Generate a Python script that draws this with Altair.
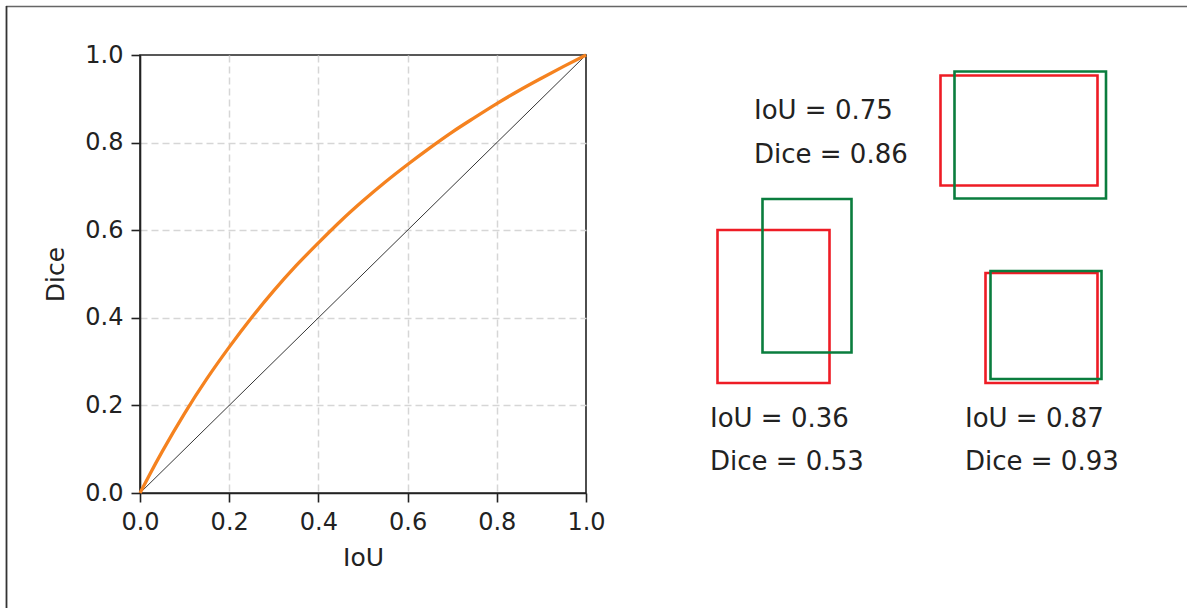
import altair as alt
import pandas as pd

# ---- data ----
iou_vals = [0.0, 0.02, 0.05, 0.10, 0.15, 0.20, 0.25, 0.30, 0.35, 0.40, 0.45, 0.50,
            0.55, 0.60, 0.65, 0.70, 0.75, 0.80, 0.85, 0.90, 0.95, 1.0]
dice_vals = [0.0, 0.039, 0.095, 0.182, 0.261, 0.333, 0.400, 0.462, 0.519, 0.571, 0.621, 0.667,
             0.710, 0.750, 0.788, 0.824, 0.857, 0.889, 0.919, 0.947, 0.974, 1.0]
diag_x = [0.0, 1.0]
diag_y = [0.0, 1.0]
tick_vals = [0.0, 0.2, 0.4, 0.6, 0.8, 1.0]

# example boxes (right panel coordinate system, y grows downward)
box_pair = ["A", "A", "B", "B", "C", "C"]
box_kind = ["pred", "gt", "pred", "gt", "pred", "gt"]
box_x1 = [940.5, 954.5, 717.5, 762.5, 985.5, 990.5]
box_x2 = [1097.5, 1106.0, 829.5, 851.5, 1097.5, 1101.5]
box_y1 = [75.5, 71.5, 230.0, 199.0, 273.0, 271.0]
box_y2 = [185.5, 198.5, 383.0, 352.5, 383.0, 379.0]

label_text = ["IoU = 0.75", "Dice = 0.86", "IoU = 0.36", "Dice = 0.53", "IoU = 0.87", "Dice = 0.93"]
label_x = [754, 754, 710, 710, 965, 965]
label_y = [110.5, 154.5, 418.5, 462.0, 418.5, 462.0]

FONT = "DejaVu Sans"
PL, PT, W, H = 140, 55, 446, 438
TOTAL_W, TOTAL_H = 1187, 608

curve_df = pd.DataFrame({"IoU": iou_vals, "Dice": dice_vals})
diag_df = pd.DataFrame({"IoU": diag_x, "Dice": diag_y})
box_df = pd.DataFrame({"pair": box_pair, "kind": box_kind, "x1": box_x1, "x2": box_x2,
                       "y1": box_y1, "y2": box_y2})
lab_df = pd.DataFrame({"text": label_text, "x": label_x, "y": label_y})

edge_hide = alt.condition("datum.value == 0 || datum.value == 1", alt.value(0), alt.value(1))

xs = alt.Scale(domain=[0, 1], nice=False, zero=False)
ys = alt.Scale(domain=[0, 1], nice=False, zero=False)
x_axis = alt.Axis(title="IoU", values=tick_vals, format=".1f", titlePadding=11,
                  gridOpacity=edge_hide)
y_axis = alt.Axis(title="Dice", values=tick_vals, format=".1f", titlePadding=16,
                  gridOpacity=edge_hide)

diag = alt.Chart(diag_df).mark_line(color="black", strokeWidth=0.8).encode(
    x=alt.X("IoU:Q", scale=xs, axis=x_axis),
    y=alt.Y("Dice:Q", scale=ys, axis=y_axis),
)
curve = alt.Chart(curve_df).mark_line(color="#f5821f", strokeWidth=3.3, interpolate="monotone").encode(
    x=alt.X("IoU:Q", scale=xs, axis=x_axis),
    y=alt.Y("Dice:Q", scale=ys, axis=y_axis),
)
plot = alt.layer(diag, curve)

# right panel: its own scales, mapped to the space right of the plot
RX0, RX1 = 690, 1130
RY0, RY1 = 60, 490
rxs = alt.Scale(domain=[RX0, RX1], range=[RX0 - PL, RX1 - PL], nice=False, zero=False)
rys = alt.Scale(domain=[RY0, RY1], range=[RY0 - PT, RY1 - PT], nice=False, zero=False)

boxes = alt.Chart(box_df).mark_rect(filled=False, strokeWidth=2.6).encode(
    x=alt.X("x1:Q", scale=rxs, axis=None),
    x2="x2:Q",
    y=alt.Y("y1:Q", scale=rys, axis=None),
    y2="y2:Q",
    stroke=alt.Stroke("kind:N", scale=alt.Scale(domain=["pred", "gt"], range=["#ee1c25", "#0a7d3e"]),
                      legend=None),
    order=alt.Order("kind:N", sort="descending"),
)
labels = alt.Chart(lab_df).mark_text(align="left", baseline="middle", fontSize=26,
                                     font=FONT, color="#222").encode(
    x=alt.X("x:Q", scale=rxs, axis=None),
    y=alt.Y("y:Q", scale=rys, axis=None),
    text="text:N",
)
panel = alt.layer(boxes, labels)

# outer frame lines (top and left edge of the figure)
frame_top = alt.Chart(pd.DataFrame({"a": [0]})).mark_rule(color="#666", strokeWidth=1.6).encode(
    x=alt.value(6 - PL), x2=alt.value(TOTAL_W - PL), y=alt.value(6.5 - PT))
frame_left = alt.Chart(pd.DataFrame({"a": [0]})).mark_rule(color="#333", strokeWidth=1.8).encode(
    x=alt.value(6.5 - PL), y=alt.value(6 - PT), y2=alt.value(TOTAL_H - PT))

chart = alt.layer(plot, panel, frame_top, frame_left).resolve_scale(
    x="independent", y="independent", stroke="independent"
).properties(
    width=W, height=H,
    background="white",
    autosize=alt.AutoSizeParams(type="none"),
    padding={"left": PL, "top": PT, "right": TOTAL_W - PL - W, "bottom": TOTAL_H - PT - H},
).configure_view(
    stroke="#222", strokeWidth=1.6
).configure_axis(
    tickSize=9, tickWidth=1.6, tickColor="#222", labelPadding=8,
    labelFontSize=24, labelColor="#222", labelFont=FONT, labelFlush=False,
    labelOverlap=False,
    titleFontSize=25, titleColor="#222", titleFont=FONT, titleFontWeight="normal",
    domainColor="#222", domainWidth=1.6,
    grid=True, gridColor="#d6d6d6", gridDash=[7, 4], gridWidth=1.5,
)

chart.save("out.html", embed_options={"renderer": "svg", "actions": False})
